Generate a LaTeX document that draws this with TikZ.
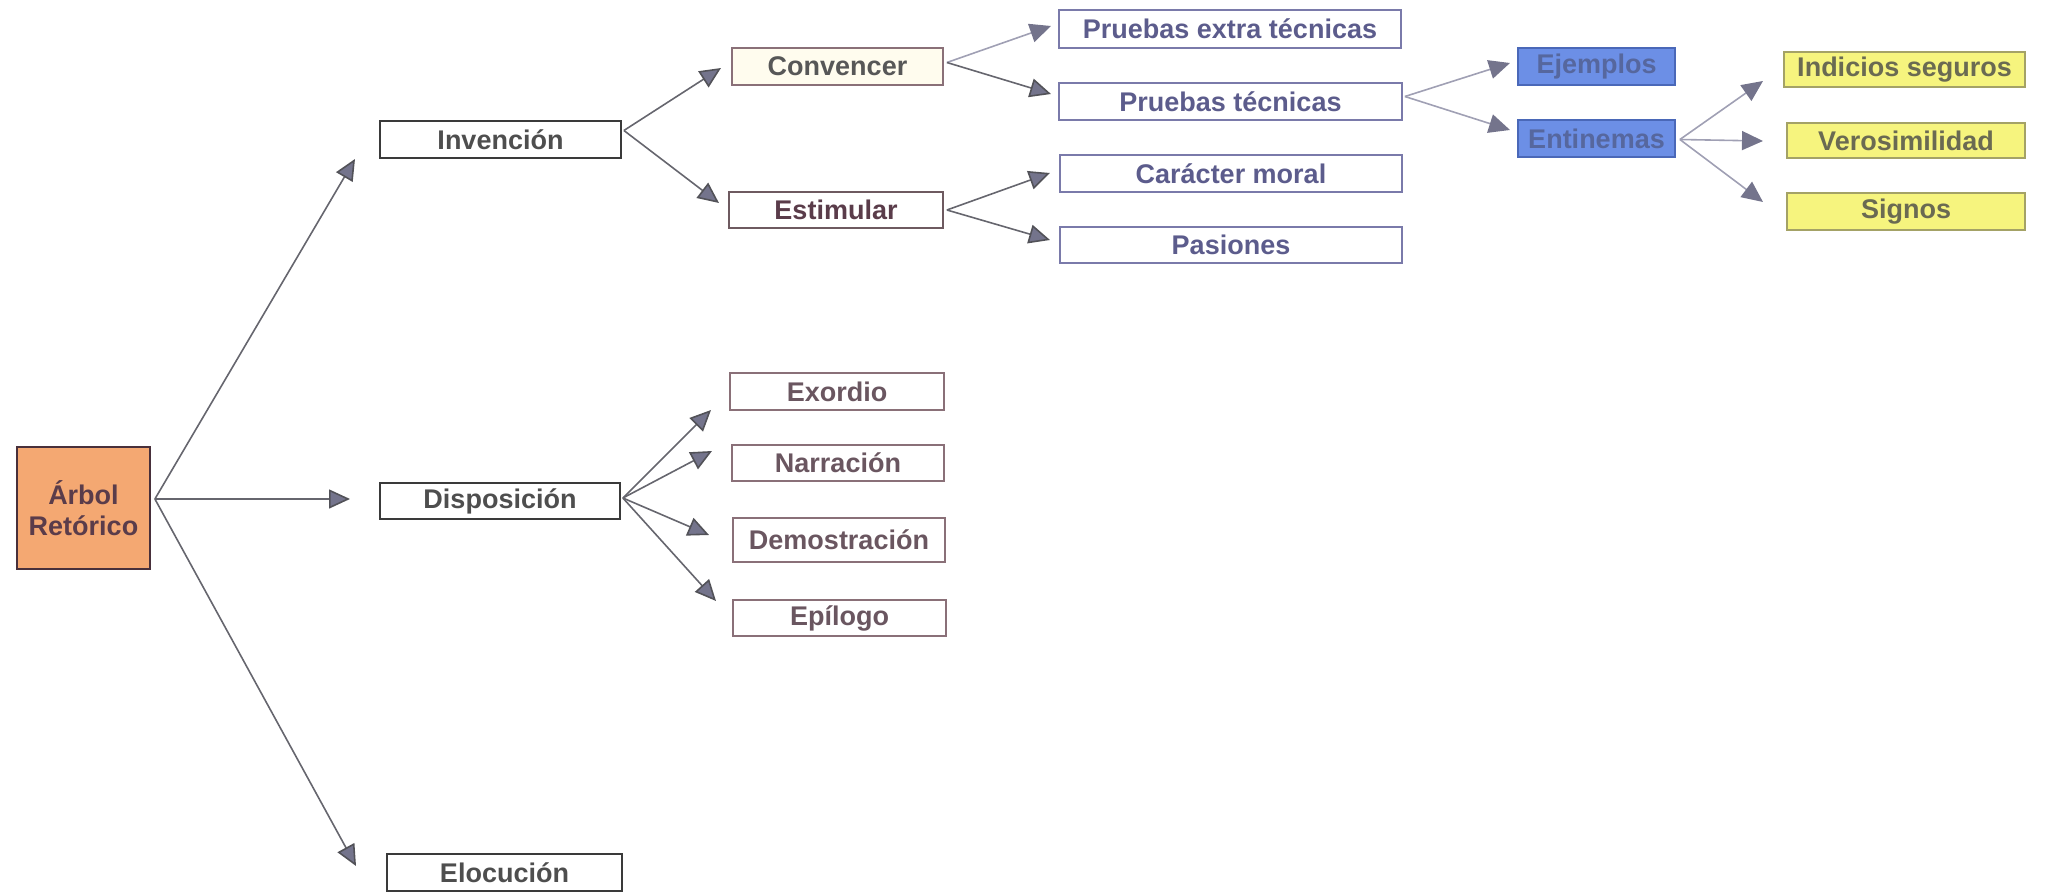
\documentclass[tikz,border=0pt]{standalone}
\usepackage{fontspec}
\setmainfont{Liberation Sans}
\usetikzlibrary{arrows.meta}
\definecolor{orfill}{HTML}{F4A872}
\definecolor{ortext}{HTML}{5A3C4A}
\definecolor{darkln}{HTML}{3A3A3A}
\definecolor{bluefill}{HTML}{6C8FE6}
\definecolor{blueln}{HTML}{4A68B8}
\definecolor{bluetext}{HTML}{56679E}
\definecolor{yelfill}{HTML}{F6F47E}
\definecolor{yelln}{HTML}{A4A266}
\definecolor{yeltext}{HTML}{6A6A52}
\definecolor{pruln}{HTML}{7A7AAA}
\definecolor{prutext}{HTML}{5C5C8C}
\definecolor{brln}{HTML}{8A7078}
\definecolor{brtext}{HTML}{6A5660}
\definecolor{linegray}{HTML}{66666E}
\definecolor{lightline}{HTML}{A0A0B4}
\definecolor{tipfill}{HTML}{74748C}
\definecolor{creamfill}{HTML}{FFFCEE}
\begin{document}
\begin{tikzpicture}[x=0.5pt,y=-0.5pt,
  box/.style={draw=darkln, line width=0.9pt, inner sep=0pt, text=darkln!90,
    font=\bfseries\fontsize{13.5}{15.5}\selectfont},
  sz/.style 2 args={minimum width=#1*0.5pt, minimum height=#2*0.5pt},
  orbox/.style={box, fill=orfill, text=ortext, draw=ortext!80!black, align=center},
  brbox/.style={box, draw=brln, text=brtext},
  prubox/.style={box, draw=pruln, text=prutext},
  bluebox/.style={box, fill=bluefill, draw=blueln, text=bluetext},
  yelbox/.style={box, fill=yelfill, draw=yelln, text=yeltext},
  conn/.style={draw=linegray, line width=0.8pt,
    -{Triangle[length=10.5pt,width=9.5pt,fill=tipfill,color=linegray!80!black]}},
  lconn/.style={draw=lightline, line width=0.8pt,
    -{Triangle[length=10.5pt,width=9.5pt,fill=tipfill,color=tipfill]}}]
\useasboundingbox (0,0) rectangle (2045,893);

% nodes
\node[orbox, sz={133}{122}, text depth=0pt] (arbol) at (83.5,508) {Árbol\\Retórico};
\node[box, sz={241}{37}] (inv) at (500.5,139.5) {Invención};
\node[box, sz={240}{36}] (disp) at (500,501) {Disposición};
\node[box, sz={235}{37}] (eloc) at (504.5,872.5) {Elocución};

\node[brbox, fill=creamfill, text=darkln!85, sz={211}{37}] (conv) at (837.5,66.5) {Convencer};
\node[brbox, draw=brln!80!black, text=ortext, sz={214}{36}] (estim) at (836,210) {Estimular};

\node[prubox, sz={342}{38}] (pext) at (1230,29) {Pruebas extra técnicas};
\node[prubox, sz={343}{37}] (ptec) at (1230.5,101.5) {Pruebas técnicas};
\node[prubox, sz={342}{37}] (car) at (1231,173.5) {Carácter moral};
\node[prubox, sz={342}{36}] (pas) at (1231,245) {Pasiones};

\node[bluebox, sz={157}{37}] (ejem) at (1596.5,66.5) {Ejemplos};
\node[bluebox, sz={157}{37}] (ent) at (1596.5,138.5) {Entinemas};

\node[yelbox, sz={241}{35}] (ind) at (1904.5,69.5) {Indicios seguros};
\node[yelbox, sz={238}{35}] (ver) at (1906,140.5) {Verosimilidad};
\node[yelbox, sz={238}{37}] (sig) at (1906,211.5) {Signos};

\node[brbox, sz={214}{37}] (exo) at (837,391.5) {Exordio};
\node[brbox, sz={212}{36}] (nar) at (838,463) {Narración};
\node[brbox, sz={212}{44}] (dem) at (839,540) {Demostración};
\node[brbox, sz={213}{36}] (epi) at (839.5,618) {Epílogo};

% junctions and arrow tips
\coordinate (jA) at ([shift={(4,-9)}]arbol.east);
\coordinate (tInv) at (355,159);
\coordinate (tDisp) at (350,499);
\coordinate (tEloc) at (356,866);

\coordinate (jInv) at ([shift={(2,-9)}]inv.east);
\coordinate (tConv) at (721,68);
\coordinate (tEstim) at (719,203);

\coordinate (jConv) at ([shift={(3,-4)}]conv.east);
\coordinate (tPext) at (1051,26);
\coordinate (tPtec) at (1051,94);

\coordinate (jEstim) at ([shift={(3,0)}]estim.east);
\coordinate (tCar) at (1050,173);
\coordinate (tPas) at (1050,240);

\coordinate (jPtec) at ([shift={(2,-5)}]ptec.east);
\coordinate (tEjem) at (1510,63);
\coordinate (tEnt) at (1510,130);

\coordinate (jEnt) at ([shift={(4,1)}]ent.east);
\coordinate (tInd) at (1763,81);
\coordinate (tVer) at (1763,141);
\coordinate (tSig) at (1763,202);

\coordinate (jDisp) at ([shift={(2,-3)}]disp.east);
\coordinate (tExo) at (711,410);
\coordinate (tNar) at (712,451);
\coordinate (tDem) at (709,535);
\coordinate (tEpi) at (716,601);

% connectors
\draw[conn] (jA) -- (tInv);
\draw[conn] (jA) -- (tDisp);
\draw[conn] (jA) -- (tEloc);

\draw[conn] (jInv) -- (tConv);
\draw[conn] (jInv) -- (tEstim);

\draw[lconn] (jConv) -- (tPext);
\draw[conn] (jConv) -- (tPtec);
\draw[conn] (jEstim) -- (tCar);
\draw[conn] (jEstim) -- (tPas);

\draw[lconn] (jPtec) -- (tEjem);
\draw[lconn] (jPtec) -- (tEnt);

\draw[lconn] (jEnt) -- (tInd);
\draw[lconn] (jEnt) -- (tVer);
\draw[lconn] (jEnt) -- (tSig);

\draw[conn] (jDisp) -- (tExo);
\draw[conn] (jDisp) -- (tNar);
\draw[conn] (jDisp) -- (tDem);
\draw[conn] (jDisp) -- (tEpi);
\end{tikzpicture}
\end{document}
